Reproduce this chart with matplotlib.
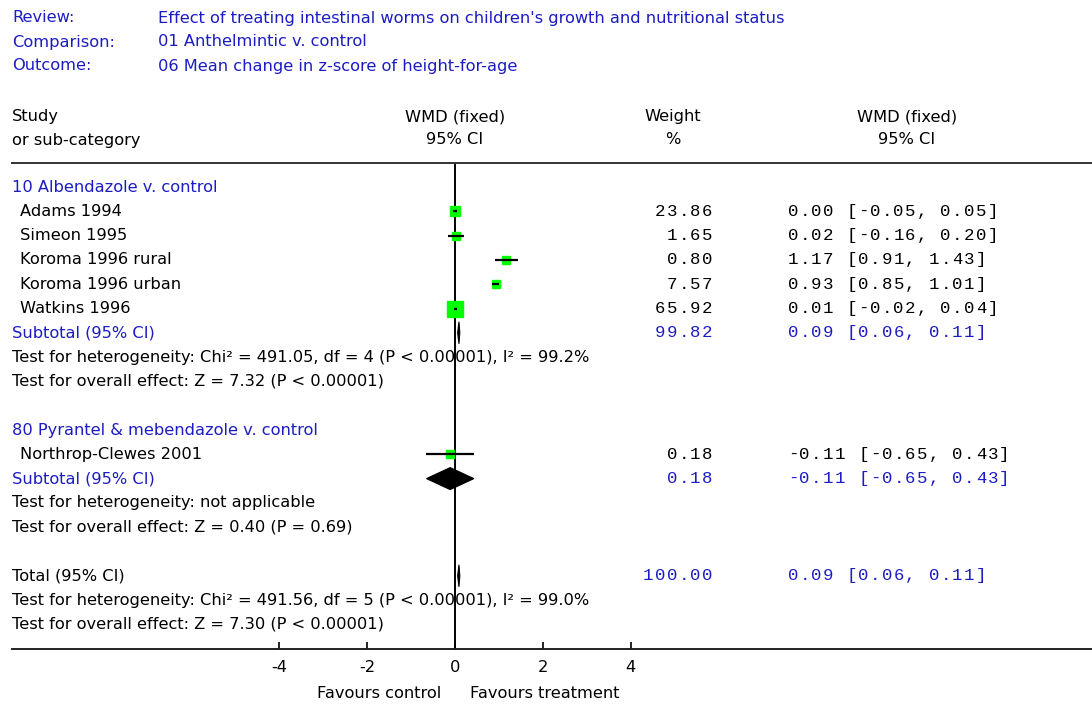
import matplotlib
matplotlib.use("Agg")
import matplotlib.pyplot as plt
from matplotlib.patches import Polygon

W, H = 1092, 707
BLUE = "#1c1cc4"
SANS = "DejaVu Sans"
SANS_SIZE = 11.7
MONO = "Liberation Mono"
MONO_SIZE = 12.5
MONO_PITCH = 11.75
TEXT_DY = -1.5

# ---------------- data ----------------
header_labels = ["Review:", "Comparison:", "Outcome:"]
header_values = ["Effect of treating intestinal worms on children's growth and nutritional status",
                 "01 Anthelmintic v. control",
                 "06 Mean change in z-score of height-for-age"]

group1_name = "10 Albendazole v. control"
group1_studies = ["Adams 1994", "Simeon 1995", "Koroma 1996 rural", "Koroma 1996 urban", "Watkins 1996"]
group1_wmd = [0.00, 0.02, 1.17, 0.93, 0.01]
group1_lo = [-0.05, -0.16, 0.91, 0.85, -0.02]
group1_hi = [0.05, 0.20, 1.43, 1.01, 0.04]
group1_weight = [23.86, 1.65, 0.80, 7.57, 65.92]
group1_sub = (0.09, 0.06, 0.11, 99.82)
group1_tests = ["Test for heterogeneity: Chi\u00b2 = 491.05, df = 4 (P < 0.00001), I\u00b2 = 99.2%",
                "Test for overall effect: Z = 7.32 (P < 0.00001)"]

group2_name = "80 Pyrantel & mebendazole v. control"
group2_studies = ["Northrop-Clewes 2001"]
group2_wmd = [-0.11]
group2_lo = [-0.65]
group2_hi = [0.43]
group2_weight = [0.18]
group2_sub = (-0.11, -0.65, 0.43, 0.18)
group2_tests = ["Test for heterogeneity: not applicable",
                "Test for overall effect: Z = 0.40 (P = 0.69)"]

total = (0.09, 0.06, 0.11, 100.00)
total_tests = ["Test for heterogeneity: Chi\u00b2 = 491.56, df = 5 (P < 0.00001), I\u00b2 = 99.0%",
               "Test for overall effect: Z = 7.30 (P < 0.00001)"]

xticks = [-4, -2, 0, 2, 4]
favours = ("Favours control", "Favours treatment")

# ---------------- layout ----------------
X0PX = 455.0          # pixel of effect 0
PXU = 43.9            # pixels per unit
ROW0 = 187.0          # pixel of row 0
ROWH = 24.3
AX_LEFT = 12
LINE_TOP = 163
LINE_BOT = 649

def py(r):
    return ROW0 + ROWH * r

fig = plt.figure(figsize=(W / 100, H / 100), dpi=100)
fig.patch.set_facecolor("white")

ax = fig.add_axes([0, 0, 1, 1])
ax.set_xlim(-X0PX / PXU, (W - X0PX) / PXU)
ax.set_ylim((H - ROW0) / ROWH, -ROW0 / ROWH)
ax.axis("off")

def ftext(xp, ypix, s, **kw):
    kw.setdefault("family", SANS)
    kw.setdefault("fontsize", SANS_SIZE)
    kw.setdefault("color", "black")
    kw.setdefault("va", "center_baseline")
    fig.text(xp / W, 1 - (ypix + TEXT_DY) / H, s, **kw)

def mtext(xp, ypix, s, right=False, color="black"):
    """monospace text with a fixed, wide character pitch"""
    start = xp - len(s) * MONO_PITCH if right else xp
    for k, ch in enumerate(s):
        if ch == " ":
            continue
        fig.text((start + (k + 0.5) * MONO_PITCH) / W, 1 - (ypix + TEXT_DY) / H, ch,
                 family=MONO, fontsize=MONO_SIZE, color=color, ha="center", va="center_baseline")

# header
for i, (lab, val) in enumerate(zip(header_labels, header_values)):
    ftext(12, 18 + 24 * i, lab, color=BLUE)
    ftext(158, 18 + 24 * i, val, color=BLUE)

ftext(12, 117, "Study")
ftext(12, 140, "or sub-category")
ftext(455, 117, "WMD (fixed)", ha="center")
ftext(455, 140, "95% CI", ha="center")
ftext(673, 117, "Weight", ha="center")
ftext(673, 140, "%", ha="center")
ftext(907, 117, "WMD (fixed)", ha="center")
ftext(907, 140, "95% CI", ha="center")

# horizontal header line
fig.add_artist(plt.Line2D([AX_LEFT / W, 1], [1 - LINE_TOP / H] * 2, color="#333333", lw=1.4))

# zero line
ax.axvline(0, ymin=(H - LINE_BOT) / H, ymax=(H - LINE_TOP - 2) / H, color="black", lw=1.4, zorder=1)

def square_px(w):
    return max(8.0, 2.0 * w ** 0.5)

def study_row(r, name, est, lo, hi, wt):
    ftext(20, py(r), name)
    s = square_px(wt) * 0.72
    ax.plot([est], [r], marker="s", ms=s, mfc="#00ff00", mec="#00ff00", zorder=3)
    ax.plot([lo, hi], [r, r], color="black", lw=1.6, zorder=4, solid_capstyle="butt")
    mtext(713, py(r), f"{wt:.2f}", right=True)
    mtext(787, py(r), f"{est:.2f} [{lo:.2f}, {hi:.2f}]")

def diamond_row(r, label, est, lo, hi, wt, label_color):
    ftext(12, py(r), label, color=label_color)
    hh = 11.0 / ROWH
    poly = Polygon([[lo, r], [est, r - hh], [hi, r], [est, r + hh]], closed=True,
                   facecolor="black", edgecolor="black", lw=0.8, zorder=3)
    ax.add_patch(poly)
    mtext(713, py(r), f"{wt:.2f}", right=True, color=BLUE)
    mtext(787, py(r), f"{est:.2f} [{lo:.2f}, {hi:.2f}]", color=BLUE)

# group 1
r = 0
ftext(12, py(r), group1_name, color=BLUE)
for i, name in enumerate(group1_studies):
    study_row(r + 1 + i, name, group1_wmd[i], group1_lo[i], group1_hi[i], group1_weight[i])
r = 1 + len(group1_studies)
diamond_row(r, "Subtotal (95% CI)", *group1_sub, BLUE)
for j, t in enumerate(group1_tests):
    ftext(12, py(r + 1 + j), t)

# group 2
r = 10
ftext(12, py(r), group2_name, color=BLUE)
for i, name in enumerate(group2_studies):
    study_row(r + 1 + i, name, group2_wmd[i], group2_lo[i], group2_hi[i], group2_weight[i])
r = r + 1 + len(group2_studies)
diamond_row(r, "Subtotal (95% CI)", *group2_sub, BLUE)
for j, t in enumerate(group2_tests):
    ftext(12, py(r + 1 + j), t)

# total
r = 16
diamond_row(r, "Total (95% CI)", *total, "black")
for j, t in enumerate(total_tests):
    ftext(12, py(r + 1 + j), t)

# x axis
axb = fig.add_axes([AX_LEFT / W, 1 - LINE_BOT / H, (W - AX_LEFT) / W, 0.0001])
axb.set_xlim((AX_LEFT - X0PX) / PXU, (W - X0PX) / PXU)
for sp in ["left", "right", "top"]:
    axb.spines[sp].set_visible(False)
axb.spines["bottom"].set_linewidth(1.4)
axb.spines["bottom"].set_color("#222222")
axb.set_yticks([])
axb.set_xticks(xticks)
axb.set_xticklabels([str(t) for t in xticks], family=SANS, fontsize=SANS_SIZE)
axb.tick_params(axis="x", direction="in", length=5, width=1.2, pad=8)
axb.patch.set_visible(False)

ftext(441, 694, favours[0], ha="right")
ftext(470, 694, favours[1], ha="left")

fig.savefig("out.png", dpi=100, facecolor="white")
